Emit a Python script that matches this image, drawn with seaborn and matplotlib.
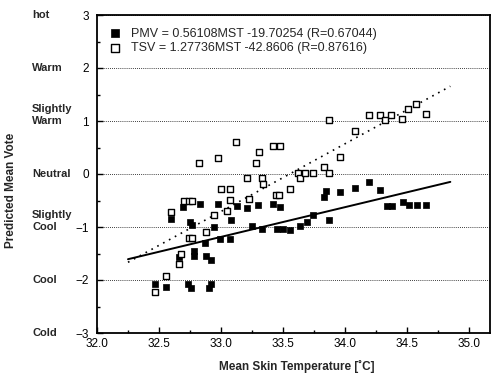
import numpy as np
import pandas as pd
import matplotlib
matplotlib.use("Agg")
import matplotlib.pyplot as plt
import matplotlib.transforms as mtransforms
from matplotlib.ticker import MultipleLocator
import seaborn as sns

# PMV (filled squares)
pmv_x = [32.47, 32.56, 32.60, 32.66, 32.69, 32.73, 32.76, 32.75, 32.77, 32.78,
         32.78, 32.83, 32.87, 32.88, 32.92, 32.90, 32.92, 32.94, 32.98, 32.99,
         33.07, 33.08, 33.13, 33.21, 33.25, 33.30, 33.33, 33.42, 33.45, 33.48,
         33.50, 33.56, 33.64, 33.69, 33.74, 33.83, 33.85, 33.87, 33.96, 34.08,
         34.19, 34.28, 34.34, 34.38, 34.47, 34.52, 34.58, 34.65]
pmv_y = [-2.07, -2.14, -0.84, -1.57, -0.63, -2.07, -2.15, -0.91, -0.97, -1.46,
         -1.55, -0.56, -1.30, -1.54, -1.62, -2.15, -2.07, -1.00, -0.56, -1.23,
         -1.22, -0.86, -0.60, -0.64, -0.98, -0.58, -1.03, -0.56, -1.03, -0.62,
         -1.04, -1.06, -0.99, -0.91, -0.78, -0.43, -0.32, -0.87, -0.34, -0.27,
         -0.15, -0.30, -0.61, -0.61, -0.53, -0.58, -0.59, -0.58]

# TSV (open squares)
tsv_x = [32.47, 32.56, 32.60, 32.66, 32.68, 32.70, 32.74, 32.77, 32.74, 32.77,
         32.82, 32.88, 32.94, 32.98, 33.00, 33.07, 33.05, 33.07, 33.12, 33.21,
         33.23, 33.28, 33.31, 33.33, 33.34, 33.42, 33.48, 33.44, 33.47, 33.56,
         33.62, 33.64, 33.68, 33.74, 33.83, 33.87, 33.87, 33.96, 34.08, 34.19,
         34.28, 34.37, 34.32, 34.46, 34.51, 34.57, 34.65]
tsv_y = [-2.22, -1.92, -0.71, -1.70, -1.51, -0.50, -0.50, -0.50, -1.20, -1.20,
         0.20, -1.10, -0.78, 0.30, -0.29, -0.29, -0.70, -0.49, 0.61, -0.08,
         -0.48, 0.21, 0.41, -0.08, -0.19, 0.52, 0.52, -0.40, -0.40, -0.29,
         0.01, -0.08, 0.01, 0.01, 0.13, 0.01, 1.02, 0.32, 0.82, 1.12,
         1.12, 1.12, 1.01, 1.03, 1.23, 1.33, 1.14]

# regression lines as given in the legend
pmv_coef = (0.56108, -19.70254)
tsv_coef = (1.27736, -42.8606)
fit_range = [32.25, 34.85]

pmv_label = "PMV = 0.56108MST -19.70254 (R=0.67044)"
tsv_label = "TSV = 1.27736MST -42.8606 (R=0.87616)"

vote_ticks = [3, 2, 1, 0, -1, -2, -3]
vote_names = ["hot", "Warm", "Slightly\nWarm", "Neutral", "Slightly\nCool", "Cool", "Cold"]

sns.set_style("ticks")
plt.rcParams["font.family"] = ["Liberation Sans", "DejaVu Sans"]

pmv = pd.DataFrame({"MST": pmv_x, "vote": pmv_y})
tsv = pd.DataFrame({"MST": tsv_x, "vote": tsv_y})
fx = np.array(fit_range)
fits = pd.DataFrame({
    "MST": np.concatenate([fx, fx]),
    "vote": np.concatenate([pmv_coef[0] * fx + pmv_coef[1], tsv_coef[0] * fx + tsv_coef[1]]),
    "kind": ["PMV"] * 2 + ["TSV"] * 2,
})

fig = plt.figure(figsize=(4.94, 3.79), dpi=100)
ax = fig.add_axes([97 / 494, 1 - 333 / 379, 393 / 494, 318 / 379])

ax.grid(axis="y", linestyle=(0, (1, 1.5)), color="black", linewidth=0.6)

sns.lineplot(data=fits[fits.kind == "PMV"], x="MST", y="vote", color="black",
             linewidth=1.4, ax=ax, legend=False)
sns.lineplot(data=fits[fits.kind == "TSV"], x="MST", y="vote", color="black",
             linewidth=1.2, linestyle=(0, (1, 3)), ax=ax, legend=False)

sns.scatterplot(data=pmv, x="MST", y="vote", marker="s", s=20, color="black",
                edgecolor="black", linewidth=0.5, label=pmv_label, ax=ax, zorder=3)
sns.scatterplot(data=tsv, x="MST", y="vote", marker="s", s=20, facecolor="white",
                edgecolor="black", linewidth=1.0, label=tsv_label, ax=ax, zorder=3)

ax.set_xlim(32.0, 35.17)
ax.set_ylim(-3, 3)
ax.xaxis.set_major_locator(MultipleLocator(0.5))
ax.xaxis.set_minor_locator(MultipleLocator(0.25))
ax.yaxis.set_major_locator(MultipleLocator(1))
ax.yaxis.set_minor_locator(MultipleLocator(0.5))
ax.xaxis.set_major_formatter(matplotlib.ticker.FormatStrFormatter("%.1f"))
ax.tick_params(which="both", direction="in", top=False, right=False,
               labelsize=8.5, width=1, colors="black")
ax.tick_params(which="major", length=4)
ax.tick_params(which="minor", length=2.5)
ax.tick_params(axis="y", pad=6)
for s in ax.spines.values():
    s.set_visible(True)
    s.set_color("black")
    s.set_linewidth(1.3)

ax.set_xlabel("")
ax.set_ylabel("")

trans = mtransforms.blended_transform_factory(fig.transFigure, ax.transData)
for v, name in zip(vote_ticks, vote_names):
    lines = name.split("\n")
    for i, part in enumerate(reversed(lines)):
        ax.text(32 / 494, v + i * 0.22, part, transform=trans, ha="left", va="center",
                fontsize=8, fontweight="bold")

fig.text(297 / 494, 1 - 366 / 379, "Mean Skin Temperature [\u02daC]", ha="center",
         va="center", fontsize=8.5, fontweight="bold")
fig.text(11 / 494, 1 - 190 / 379, "Predicted Mean Vote", ha="center", va="center",
         rotation=90, fontsize=8.5, fontweight="bold")

ax.legend(loc="upper left", frameon=False, fontsize=9, handletextpad=0.9,
          borderaxespad=0.6, labelspacing=0.2, borderpad=0.4, handlelength=0.8,
          markerscale=1.3)

fig.savefig("out.png", dpi=100)
